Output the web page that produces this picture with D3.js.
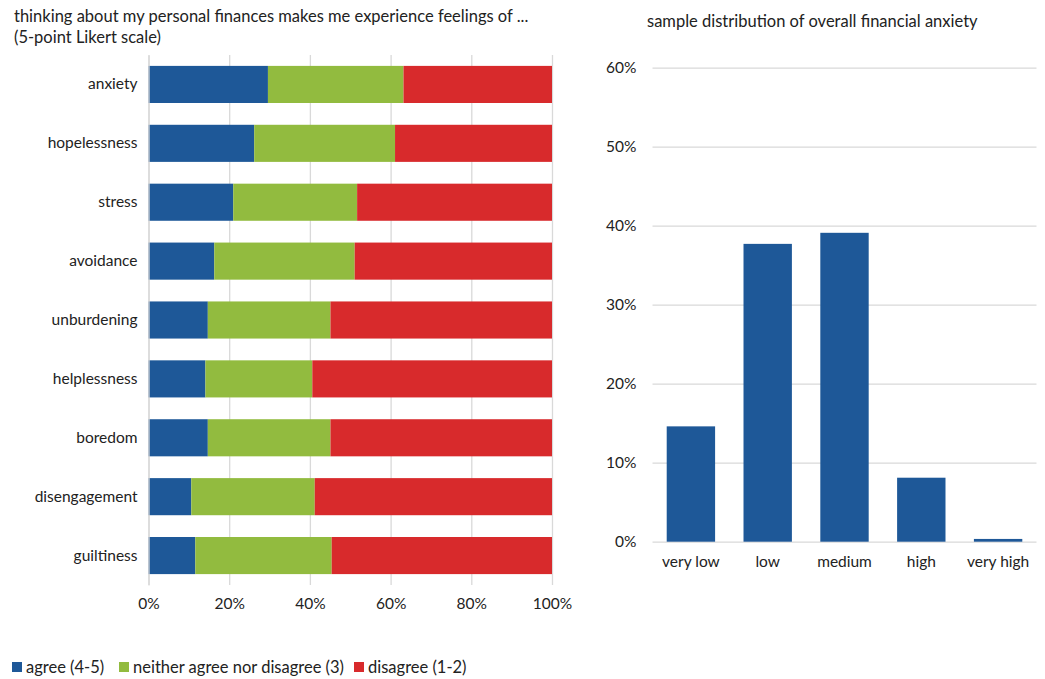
<!DOCTYPE html>
<html lang="en">
<head>
<meta charset="UTF-8">
<script src="https://d3js.org/d3.v7.min.js"></script>
<title>Financial anxiety</title>
<style>
body { margin: 0; background: #fff; }
svg { display: block; }
text { font-family: 'Lato', 'Noto Sans', sans-serif; fill: #222; }
</style>
</head>
<body>
<svg id="canvas"></svg>
<script>
// left chart: share of answers per feeling (%)
let feelings = ['anxiety', 'hopelessness', 'stress', 'avoidance', 'unburdening', 'helplessness', 'boredom', 'disengagement', 'guiltiness']
let agree    = [29.6, 26.2, 21.0, 16.3, 14.7, 14.1, 14.7, 10.6, 11.6]
let neither  = [33.6, 34.9, 30.7, 34.8, 30.4, 26.5, 30.4, 30.6, 33.8]
let disagree = [36.8, 38.9, 48.3, 48.9, 54.9, 59.4, 54.9, 58.8, 54.6]
let seriesNames = ['agree (4-5)', 'neither agree nor disagree (3)', 'disagree (1-2)']
let seriesColors = ['#1e5898', '#92bb3f', '#d82a2c']

// right chart: distribution of overall anxiety (%)
let levels = ['very low', 'low', 'medium', 'high', 'very high']
let shares = [14.6, 37.7, 39.1, 8.1, 0.35]
let shareTicks = [0, 10, 20, 30, 40, 50, 60]

let width = 1045
let height = 679
let gridColor = '#d9d9d9'
let tickFont = '15.5px'
let titleFont = '16.5px'

let svg = d3.select('#canvas').attr('width', width).attr('height', height)

// ---------- left: stacked bars ----------
let xScale = d3.scaleLinear().domain([0, 100]).range([148.5, 552])
let yScale = d3.scaleBand().domain(feelings).range([55, 585])
    .paddingInner(0.37).paddingOuter(0.185)

let rows = feelings.map((f, i) => ({ feeling: f, a: agree[i], n: neither[i], d: disagree[i] }))
let stacked = d3.stack().keys(['a', 'n', 'd'])(rows)

let xGrid = d3.axisBottom(xScale).tickValues([0, 20, 40, 60, 80, 100])
    .tickSize(-(585 - 55)).tickFormat(d => d + '%').tickPadding(10)
let gx = svg.append('g').attr('transform', 'translate(0,585)').call(xGrid)
gx.select('.domain').remove()
gx.selectAll('line').attr('stroke', gridColor).attr('stroke-width', 1.3)
gx.selectAll('text').style('font-size', tickFont).attr('dy', '0.9em')

svg.append('g').selectAll('g')
    .data(stacked)
    .enter().append('g')
    .attr('fill', (s, i) => seriesColors[i])
    .selectAll('rect')
    .data(s => s)
    .enter().append('rect')
    .attr('x', d => xScale(d[0]))
    .attr('width', d => xScale(d[1]) - xScale(d[0]))
    .attr('y', d => yScale(d.data.feeling))
    .attr('height', yScale.bandwidth())

let yAxis = d3.axisLeft(yScale).tickSize(0).tickPadding(11)
let gy = svg.append('g').attr('transform', 'translate(148.5,0)').call(yAxis)
gy.select('.domain').attr('stroke', gridColor).attr('stroke-width', 1.3)
gy.selectAll('text').style('font-size', tickFont)

svg.append('text').attr('x', 14).attr('y', 22).style('font-size', titleFont)
    .text('thinking about my personal finances makes me experience feelings of ...')
svg.append('text').attr('x', 14).attr('y', 43).style('font-size', titleFont)
    .text('(5-point Likert scale)')

// legend
let legend = svg.append('g').attr('transform', 'translate(12,662)')
let legendX = [0, 107, 342]
seriesNames.forEach((name, i) => {
    let g = legend.append('g').attr('transform', 'translate(' + legendX[i] + ',0)')
    g.append('rect').attr('width', 10).attr('height', 10).attr('fill', seriesColors[i])
    g.append('text').attr('x', 14).attr('y', 10.5).style('font-size', titleFont).text(name)
})

// ---------- right: column chart ----------
let x2 = d3.scaleBand().domain(levels).range([652.5, 1036.5])
    .paddingInner(0.37).paddingOuter(0.185)
let y2 = d3.scaleLinear().domain([0, 60]).range([541.7, 67.7])

let y2Axis = d3.axisLeft(y2).tickValues(shareTicks)
    .tickSize(-(1036.5 - 652.5)).tickFormat(d => d + '%').tickPadding(16)
let gy2 = svg.append('g').attr('transform', 'translate(652.5,0)').call(y2Axis)
gy2.select('.domain').remove()
gy2.selectAll('line').attr('stroke', gridColor).attr('stroke-width', 1.3)
gy2.selectAll('text').style('font-size', tickFont)

svg.append('g').selectAll('rect')
    .data(levels)
    .enter().append('rect')
    .attr('fill', '#1e5898')
    .attr('x', d => x2(d))
    .attr('width', x2.bandwidth())
    .attr('y', (d, i) => y2(shares[i]))
    .attr('height', (d, i) => y2(0) - y2(shares[i]))

let x2Axis = d3.axisBottom(x2).tickSize(0).tickPadding(14)
let gx2 = svg.append('g').attr('transform', 'translate(0,541.7)').call(x2Axis)
gx2.select('.domain').remove()
gx2.selectAll('text').style('font-size', tickFont)

svg.append('text').attr('x', 647).attr('y', 27).style('font-size', titleFont)
    .text('sample distribution of overall financial anxiety')
</script>
</body>
</html>
